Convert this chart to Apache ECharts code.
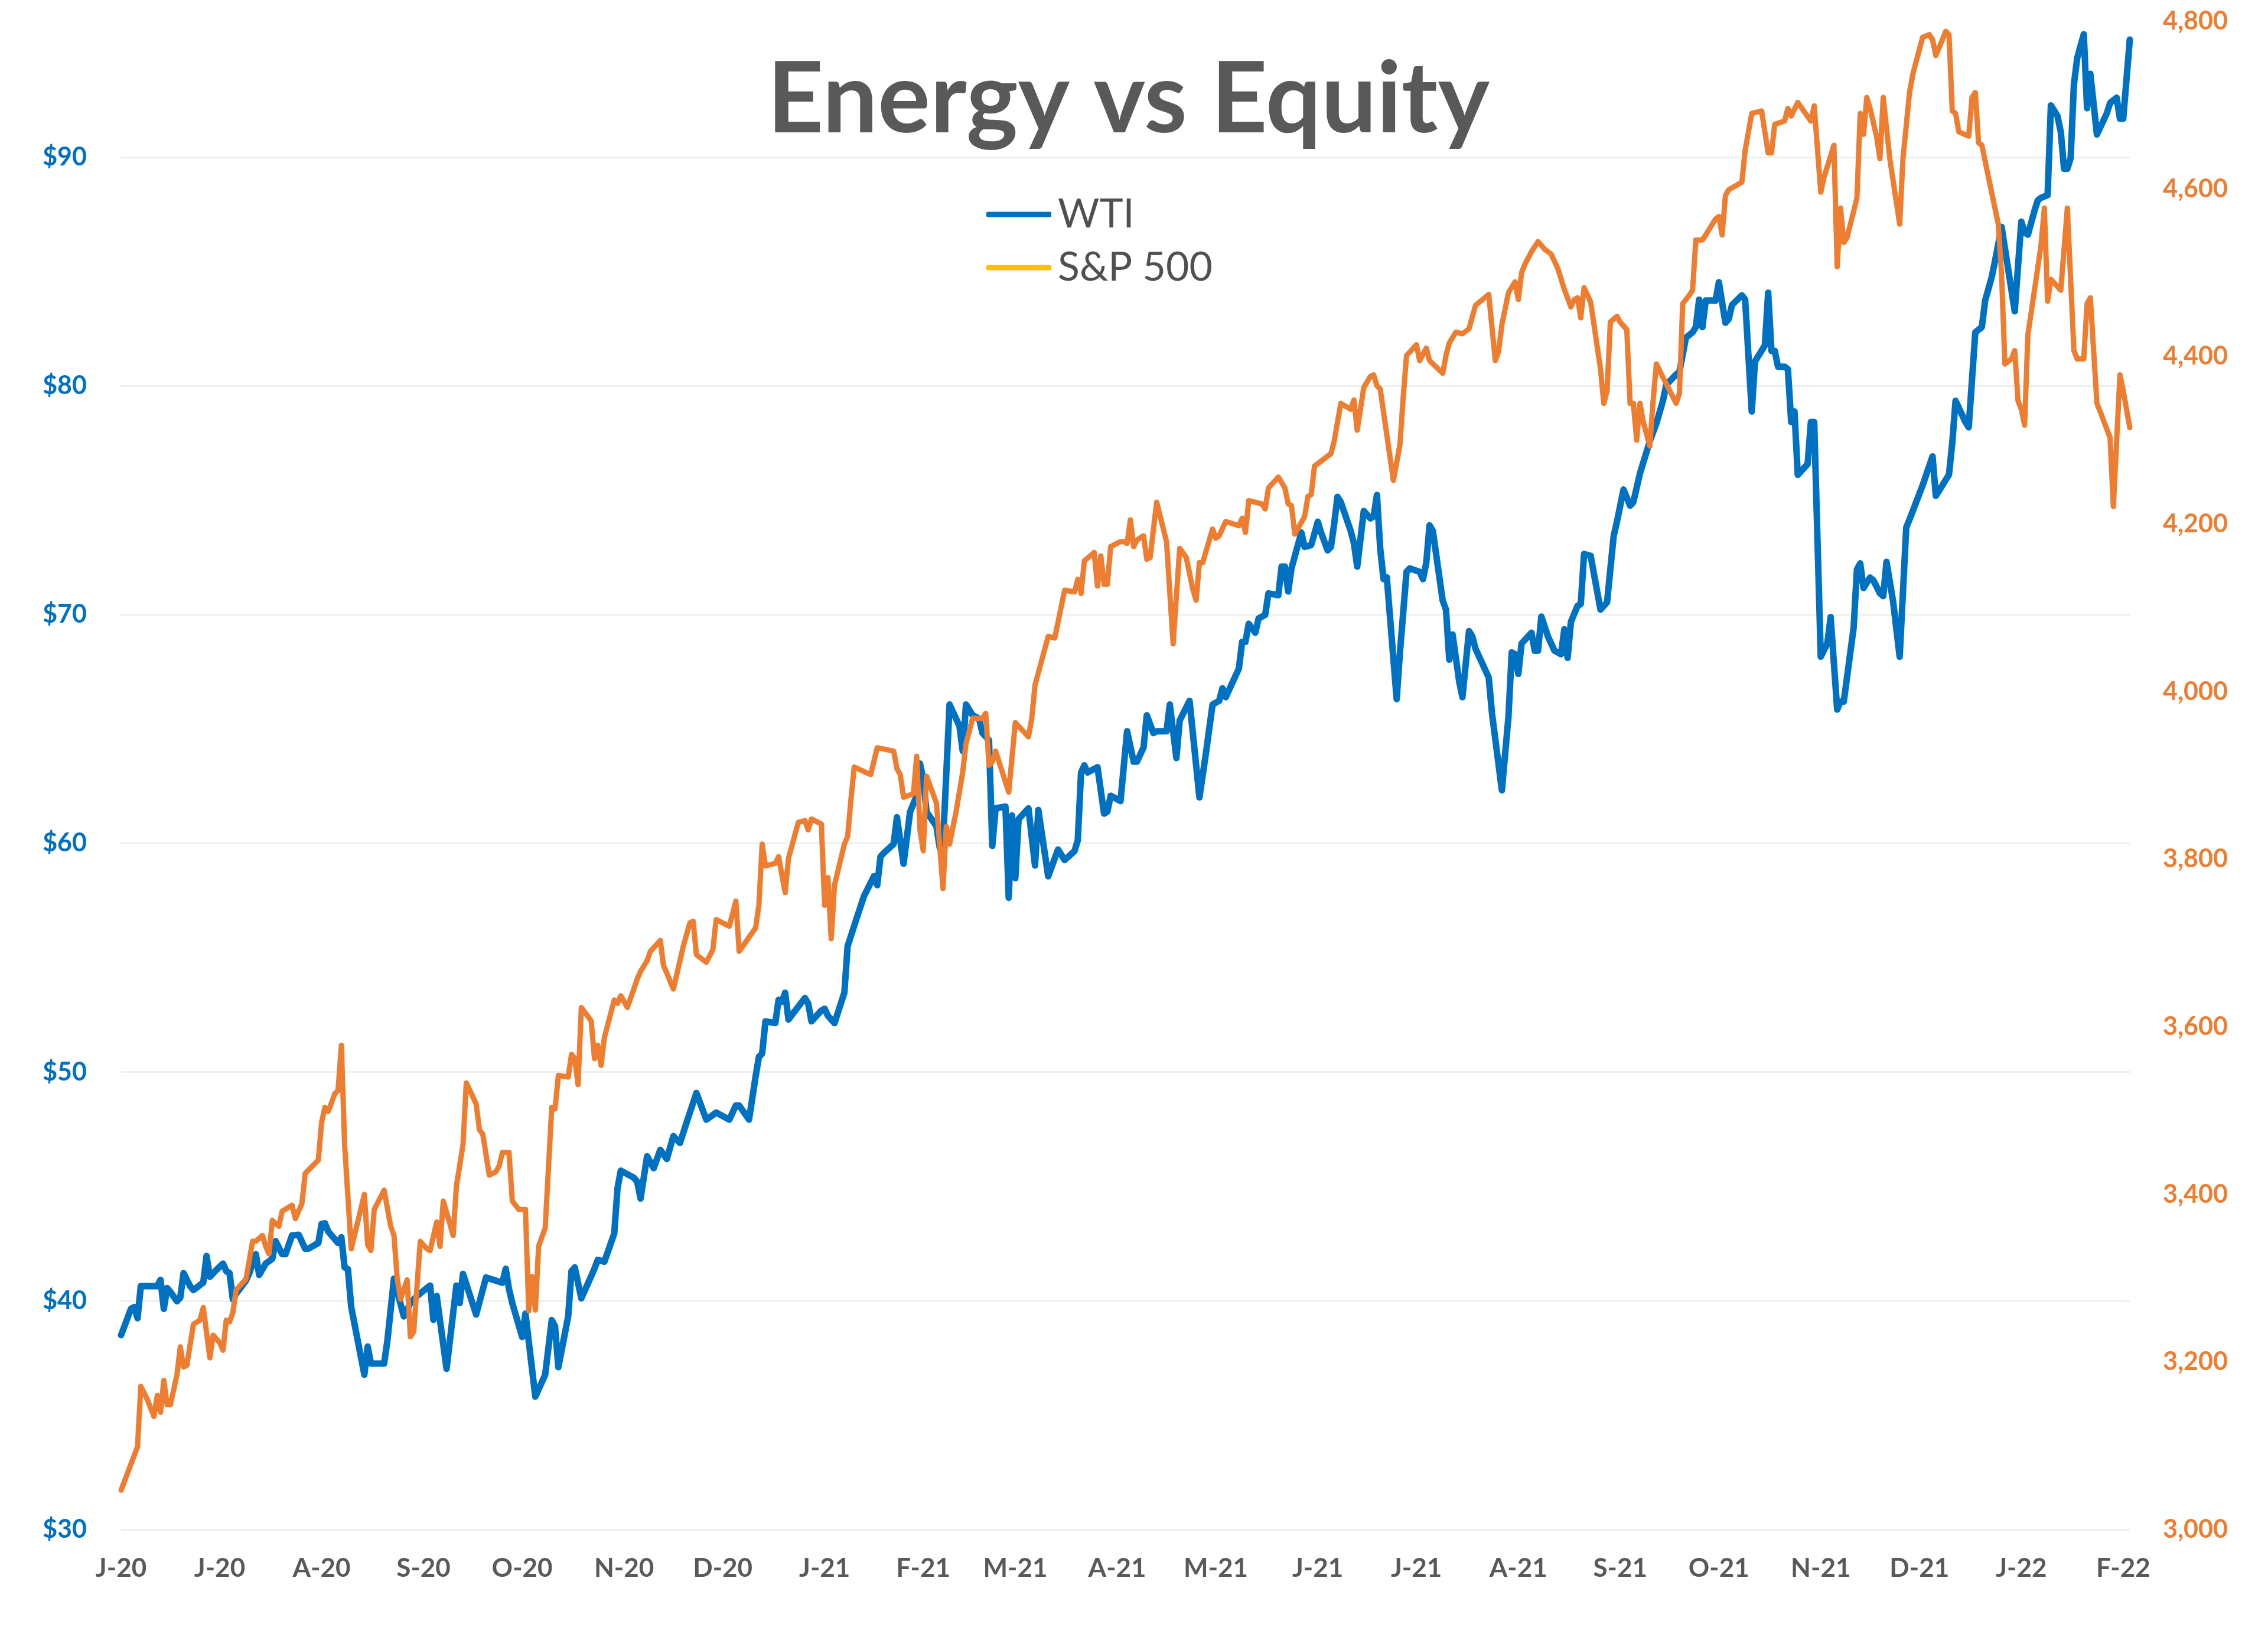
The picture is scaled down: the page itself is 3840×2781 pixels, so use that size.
<!DOCTYPE html>
<html><head><meta charset="utf-8">
<script src="https://cdn.jsdelivr.net/npm/echarts@6/dist/echarts.min.js"></script>
<style>html,body{margin:0;padding:0;background:#fff}#c{width:3840px;height:2781px}</style>
</head><body><div id="c"></div>
<script>
// x positions are calendar days counted from 2020-06-29
const startDateUTC = Date.UTC(2020, 5, 29);
const dayCount = 612;
const tickLabels = ['J-20','J-20','A-20','S-20','O-20','N-20','D-20','J-21','F-21','M-21','A-21','M-21','J-21','J-21','A-21','S-21','O-21','N-21','D-21','J-22','F-22'];
const tickDates = ['2020-06-29','2020-07-29','2020-08-29','2020-09-29','2020-10-29','2020-11-29','2020-12-29','2021-01-29','2021-02-28','2021-03-28','2021-04-28','2021-05-28','2021-06-28','2021-07-28','2021-08-28','2021-09-28','2021-10-28','2021-11-28','2021-12-28','2022-01-28','2022-02-28'];

// WTI ($/bbl): [day, value]
const wtiPoints = [[0,38.5],[3,39.65],[4,39.73],[5,39.24],[6,40.64],[11,40.64],[12,40.92],[13,39.65],[14,40.56],[15,40.39],[17,39.98],[18,40.14],[19,41.21],[21,40.64],[22,40.47],[25,40.8],[26,41.96],[27,41.05],[29,41.35],[31,41.63],[32,41.3],[33,41.21],[34,40.06],[35,40.31],[38,40.89],[39,41.21],[41,42.04],[42,41.13],[44,41.63],[46,41.84],[47,42.61],[49,42.04],[50,42.04],[52,42.86],[54,42.89],[56,42.28],[57,42.28],[60,42.53],[61,43.36],[62,43.39],[63,43.03],[66,42.53],[67,42.78],[68,41.46],[69,41.38],[70,39.73],[74,36.77],[75,38.0],[76,37.26],[80,37.26],[81,38.25],[83,40.97],[86,39.32],[88,39.91],[90,40.21],[94,40.67],[95,39.17],[96,40.21],[99,37.03],[102,40.67],[103,39.9],[104,41.18],[108,39.4],[111,41.02],[116,40.79],[117,41.4],[118,40.51],[119,39.9],[122,38.42],[123,39.44],[126,35.81],[129,36.77],[131,39.16],[132,38.88],[133,37.1],[136,39.32],[137,41.3],[138,41.46],[140,40.11],[143,41.08],[144,41.41],[145,41.79],[147,41.71],[149,42.53],[150,42.94],[151,44.92],[152,45.69],[156,45.38],[157,45.2],[158,44.47],[160,46.32],[162,45.8],[164,46.6],[166,46.2],[168,47.2],[170,46.9],[172,47.79],[175,49.09],[178,47.92],[181,48.23],[185,47.92],[187,48.54],[188,48.54],[191,47.92],[193,49.8],[194,50.66],[195,50.81],[196,52.22],[199,52.14],[200,53.16],[201,53.08],[202,53.47],[203,52.3],[208,53.24],[209,53.0],[210,52.22],[213,52.69],[214,52.77],[215,52.46],[217,52.14],[220,53.47],[221,55.51],[224,56.84],[226,57.7],[229,58.56],[230,58.17],[231,59.42],[232,59.58],[235,59.97],[236,61.14],[238,59.11],[240,61.38],[242,62.08],[243,63.49],[244,62.79],[245,61.38],[248,60.75],[249,59.81],[250,59.97],[252,66.07],[253,65.76],[255,65.13],[256,64.04],[257,66.07],[259,65.6],[261,65.45],[262,64.82],[264,64.51],[265,59.89],[266,61.53],[269,61.61],[270,57.62],[271,61.22],[272,58.48],[273,61.06],[276,61.53],[278,59.03],[279,61.46],[282,58.56],[285,59.73],[287,59.27],[290,59.66],[291,60.13],[292,63.1],[293,63.41],[294,63.1],[297,63.33],[299,61.3],[300,61.38],[301,62.08],[304,61.85],[306,64.9],[308,63.57],[309,63.57],[311,64.19],[312,65.6],[314,64.82],[315,64.9],[318,64.9],[319,66.07],[321,63.73],[322,65.37],[325,66.23],[328,62.01],[330,63.96],[332,66.07],[334,66.23],[335,66.78],[336,66.39],[340,67.64],[341,68.81],[342,68.81],[343,69.6],[345,69.21],[346,69.83],[348,69.99],[349,70.93],[352,70.85],[353,72.1],[354,72.1],[355,71.01],[356,72.02],[359,73.59],[360,72.96],[362,73.04],[364,74.06],[365,73.59],[367,72.81],[368,72.96],[369,73.98],[370,75.15],[371,74.92],[374,73.67],[375,73.12],[376,72.1],[378,74.53],[380,74.21],[381,74.29],[382,75.23],[383,72.88],[384,71.55],[385,71.63],[388,66.31],[389,68.35],[391,71.87],[392,72.02],[395,71.87],[396,71.55],[397,72.26],[398,73.9],[399,73.66],[402,70.61],[403,70.22],[404,68.03],[405,69.13],[406,68.11],[407,67.09],[408,66.39],[410,69.28],[411,69.05],[412,68.5],[416,67.25],[417,65.68],[420,62.32],[422,65.53],[423,68.35],[424,68.27],[425,67.41],[426,68.74],[429,69.21],[430,68.42],[431,68.42],[432,69.91],[434,69.05],[436,68.42],[438,68.27],[439,69.36],[440,68.11],[441,69.68],[443,70.38],[444,70.46],[445,72.65],[447,72.57],[450,70.22],[452,70.54],[454,73.43],[455,74.06],[457,75.47],[459,74.76],[460,74.92],[462,76.17],[465,77.58],[467,78.36],[469,79.35],[470,80.04],[473,80.5],[474,80.61],[476,82.11],[478,82.34],[479,82.57],[480,83.77],[481,82.57],[482,83.73],[485,83.73],[486,84.53],[488,82.76],[489,82.92],[490,83.54],[493,83.96],[494,83.77],[496,78.88],[497,81.07],[500,81.77],[501,84.07],[502,81.53],[503,81.53],[504,80.84],[506,80.84],[507,80.73],[508,78.42],[509,78.88],[510,76.11],[513,76.58],[514,78.42],[515,78.42],[517,68.16],[519,68.74],[520,69.89],[522,65.85],[523,66.2],[524,66.2],[527,69.43],[528,71.97],[529,72.24],[530,71.16],[532,71.62],[533,71.5],[535,70.93],[536,70.81],[537,72.31],[539,70.58],[541,68.16],[543,73.81],[544,74.16],[548,75.66],[551,76.92],[552,75.19],[556,76.12],[557,77.5],[558,79.35],[561,78.42],[562,78.19],[564,82.34],[566,82.57],[567,83.73],[569,84.76],[570,85.46],[572,86.95],[574,85.11],[576,83.26],[578,87.18],[579,86.72],[580,86.61],[582,87.65],[583,88.11],[584,88.22],[586,88.34],[587,92.26],[589,91.8],[590,91.11],[591,89.49],[592,89.49],[593,89.95],[594,93.18],[595,94.33],[597,95.37],[598,92.14],[599,93.64],[601,90.99],[604,91.91],[605,92.37],[607,92.6],[608,91.68],[609,91.68],[611,95.14]];

// S&P 500: [day, value]
const spxPoints = [[0,3047],[5,3099],[6,3171],[8,3155],[10,3135],[11,3160],[12,3140],[13,3178],[14,3149],[15,3149],[17,3185],[18,3218],[19,3194],[20,3196],[22,3245],[24,3250],[25,3265],[27,3205],[28,3232],[30,3223],[31,3214],[32,3250],[33,3248],[34,3259],[35,3286],[38,3299],[40,3344],[41,3344],[43,3351],[44,3338],[45,3329],[46,3369],[47,3365],[48,3362],[49,3380],[52,3387],[53,3371],[55,3389],[56,3425],[60,3441],[61,3486],[62,3504],[63,3499],[65,3520],[66,3524],[67,3578],[68,3459],[70,3335],[74,3400],[75,3340],[76,3333],[77,3382],[80,3405],[82,3362],[83,3351],[84,3299],[85,3275],[87,3298],[88,3230],[89,3236],[91,3344],[93,3335],[94,3333],[96,3367],[97,3338],[98,3392],[100,3365],[101,3351],[102,3410],[104,3459],[105,3533],[108,3508],[109,3477],[110,3472],[112,3423],[114,3427],[115,3434],[116,3450],[118,3450],[119,3392],[121,3382],[123,3382],[124,3261],[125,3302],[126,3262],[127,3338],[129,3360],[131,3504],[132,3502],[133,3542],[136,3540],[137,3567],[138,3562],[139,3531],[140,3623],[143,3607],[144,3562],[145,3578],[146,3554],[147,3587],[150,3632],[151,3628],[152,3637],[153,3630],[154,3623],[157,3657],[158,3666],[160,3679],[161,3690],[164,3703],[165,3673],[166,3664],[168,3645],[171,3696],[173,3724],[174,3726],[175,3686],[178,3677],[180,3692],[181,3728],[185,3720],[187,3750],[188,3690],[193,3718],[194,3745],[195,3818],[196,3792],[199,3795],[200,3803],[202,3760],[203,3801],[206,3844],[208,3846],[209,3835],[210,3848],[213,3842],[214,3745],[215,3778],[216,3705],[217,3769],[220,3818],[221,3827],[222,3871],[223,3910],[228,3901],[230,3933],[235,3929],[236,3908],[237,3901],[238,3874],[241,3878],[242,3923],[243,3835],[244,3810],[245,3899],[248,3867],[250,3765],[251,3839],[252,3818],[254,3857],[256,3904],[257,3938],[259,3968],[262,3968],[263,3974],[264,3912],[265,3916],[266,3929],[270,3880],[272,3963],[276,3946],[277,3968],[278,4008],[282,4066],[284,4064],[287,4121],[290,4119],[291,4134],[292,4117],[293,4156],[296,4166],[297,4126],[298,4162],[299,4128],[300,4128],[301,4173],[304,4179],[305,4179],[306,4177],[307,4205],[308,4173],[309,4181],[311,4186],[312,4158],[313,4160],[315,4226],[318,4179],[320,4057],[322,4171],[324,4160],[326,4122],[327,4109],[328,4154],[329,4154],[332,4194],[333,4183],[334,4186],[336,4203],[340,4198],[341,4207],[342,4190],[343,4228],[347,4224],[348,4218],[349,4243],[352,4256],[354,4243],[355,4224],[356,4222],[357,4188],[360,4209],[361,4233],[362,4235],[363,4269],[365,4275],[368,4284],[369,4299],[371,4344],[374,4337],[375,4348],[376,4312],[378,4363],[380,4376],[381,4378],[382,4365],[383,4361],[387,4252],[389,4295],[390,4352],[391,4401],[394,4414],[395,4395],[397,4410],[398,4395],[402,4380],[403,4401],[404,4416],[406,4429],[408,4427],[410,4433],[412,4461],[416,4474],[418,4395],[419,4406],[420,4438],[422,4476],[424,4489],[425,4468],[426,4500],[427,4510],[429,4525],[431,4537],[433,4528],[435,4522],[437,4505],[439,4480],[441,4459],[442,4468],[443,4470],[444,4446],[445,4482],[447,4465],[450,4385],[451,4344],[452,4359],[453,4441],[455,4448],[456,4441],[458,4432],[459,4344],[460,4344],[461,4300],[462,4344],[463,4322],[465,4293],[466,4347],[467,4391],[469,4375],[473,4344],[474,4356],[475,4463],[477,4473],[478,4479],[479,4539],[481,4539],[482,4545],[485,4564],[486,4567],[487,4545],[488,4592],[489,4599],[493,4608],[494,4646],[496,4690],[499,4693],[501,4643],[502,4643],[503,4677],[506,4681],[507,4696],[508,4687],[510,4703],[514,4681],[515,4699],[517,4596],[518,4614],[521,4652],[522,4507],[523,4577],[524,4536],[525,4542],[528,4589],[529,4690],[530,4665],[531,4709],[532,4696],[534,4662],[535,4636],[536,4709],[538,4636],[541,4558],[542,4636],[544,4715],[545,4737],[548,4781],[550,4784],[551,4778],[552,4759],[554,4778],[555,4788],[556,4784],[557,4693],[558,4690],[559,4668],[562,4663],[563,4709],[564,4715],[565,4655],[566,4652],[568,4614],[571,4558],[572,4498],[573,4391],[575,4397],[576,4407],[577,4347],[578,4337],[579,4318],[580,4426],[582,4479],[584,4533],[585,4577],[586,4466],[587,4492],[590,4479],[592,4577],[594,4407],[595,4397],[597,4397],[598,4463],[599,4470],[601,4344],[602,4334],[605,4303],[606,4221],[608,4378],[609,4359],[611,4315]];

const categories = [];
for (let i = 0; i < dayCount; i++) {
  categories.push(new Date(startDateUTC + i * 86400000).toISOString().slice(0, 10));
}
const toSeries = pts => pts.map(p => [categories[p[0]], p[1]]);

const FONT = 'Lato';
const chart = echarts.init(document.getElementById('c'), null, {renderer: 'canvas'});
chart.setOption({
  animation: false,
  backgroundColor: '#ffffff',
  title: {
    text: 'Energy vs Equity',
    left: 1294, top: 82,
    textStyle: {fontFamily: FONT, fontWeight: 'bold', fontSize: 166, color: '#595959'}
  },
  legend: {
    orient: 'vertical', left: 1665, top: 324,
    icon: 'roundRect',
    itemWidth: 110, itemHeight: 9, itemGap: 22,
    textStyle: {fontFamily: FONT, fontSize: 68, color: '#505050', padding: [0, 0, 0, 6]},
    data: [
      {name: 'WTI', itemStyle: {color: '#0070C0'}},
      {name: 'S&P 500', itemStyle: {color: '#FFC000'}}
    ]
  },
  grid: {left: 205, right: 234, top: 36, bottom: 192, containLabel: false},
  xAxis: {
    type: 'category', data: categories, boundaryGap: false,
    axisLine: {show: false}, axisTick: {show: false}, splitLine: {show: false},
    axisLabel: {
      interval: (i, v) => tickDates.includes(v),
      formatter: v => { const k = tickDates.indexOf(v); return k < 0 ? '' : tickLabels[k]; },
      fontFamily: FONT, fontSize: 44, fontWeight: 'bold', color: '#595959', margin: 44
    }
  },
  yAxis: [
    {
      type: 'value', position: 'left', min: 30, max: 95.94, interval: 10,
      axisLine: {show: false}, axisTick: {show: false},
      splitLine: {show: true, showMaxLine: false, lineStyle: {color: '#EFEFEF', width: 3}},
      axisLabel: {showMaxLabel: false, formatter: v => '$' + v, fontFamily: FONT, fontSize: 43, fontWeight: 'bold', color: '#0070C0', margin: 58}
    },
    {
      type: 'value', position: 'right', min: 3000, max: 4800, interval: 200,
      axisLine: {show: false}, axisTick: {show: false}, splitLine: {show: false},
      axisLabel: {formatter: v => v.toLocaleString('en-US'), fontFamily: FONT, fontSize: 43, fontWeight: 'bold', color: '#ED7D31', margin: 56}
    }
  ],
  series: [
    {
      name: 'WTI', type: 'line', yAxisIndex: 0, data: toSeries(wtiPoints),
      symbol: 'none', z: 2,
      lineStyle: {color: '#0070C0', width: 11, join: 'round', cap: 'round'},
      itemStyle: {color: '#0070C0'}
    },
    {
      name: 'S&P 500', type: 'line', yAxisIndex: 1, data: toSeries(spxPoints),
      symbol: 'none', z: 3,
      lineStyle: {color: '#ED7D31', width: 9, join: 'round', cap: 'round'},
      itemStyle: {color: '#ED7D31'}
    }
  ]
});
</script>
</body></html>
